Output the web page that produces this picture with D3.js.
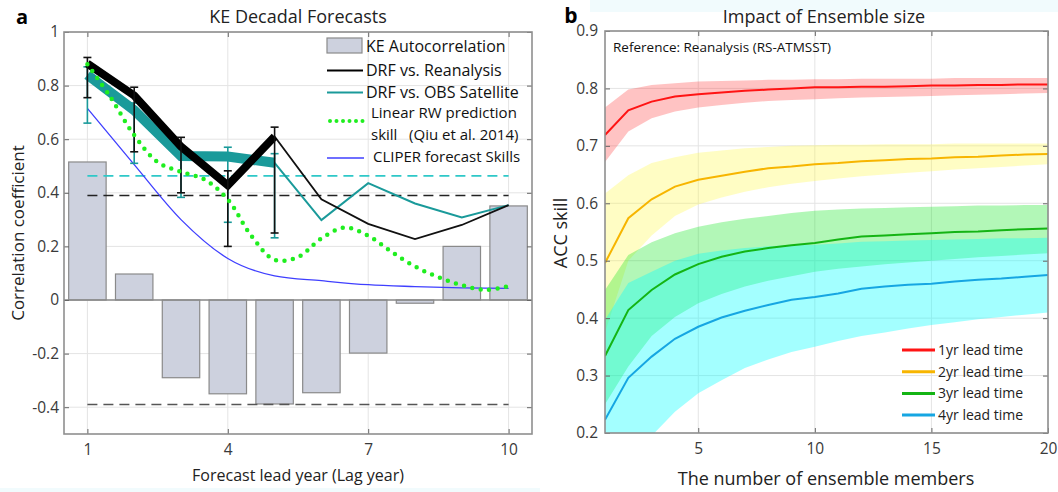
<!DOCTYPE html>
<html><head><meta charset="utf-8">
<script src="https://cdn.jsdelivr.net/npm/d3@7"></script>
<style>body{margin:0;background:#fff;} svg{display:block;font-family:'Open Sans',Lato,sans-serif;}</style>
</head><body><svg id="c" width="1058" height="492"></svg>
<script>
// ---------- Panel a data ----------
const leadYears = [1,2,3,4,5,6,7,8,9,10];
const keAutocorr = [0.515,0.097,-0.29,-0.35,-0.388,-0.346,-0.198,-0.012,0.20,0.351];
const drfReanalysis = [0.882,0.763,0.572,0.428,0.61,0.376,0.284,0.227,0.28,0.354];
const drfReanalysisLo = [0.755,0.553,0.40,0.20,0.25];
const drfReanalysisHi = [0.905,0.794,0.607,0.482,0.645];
const drfSatellite = [0.84,0.708,0.537,0.535,0.512,0.298,0.436,0.36,0.308,0.354];
const drfSatelliteLo = [0.66,0.51,0.383,0.29,0.232];
const drfSatelliteHi = [0.87,0.735,0.567,0.57,0.546];
const cliperSkill = [0.715,0.505,0.30,0.155,0.09,0.072,0.057,0.05,0.045,0.043];
const rwLags = [1,1.5,2,2.5,3,3.5,4,4.5,5,5.5,6,6.5,7,7.5,8,8.5,9,9.5,10];
const rwSkill = [0.88,0.755,0.615,0.515,0.478,0.45,0.375,0.24,0.15,0.16,0.23,0.27,0.24,0.18,0.125,0.085,0.055,0.038,0.052];
const sigReanalysis = 0.39, sigSatellite = 0.463, sigAutocorr = -0.39;
const xTicksA = [1,4,7,10];
const yTicksA = [-0.4,-0.2,0,0.2,0.4,0.6,0.8,1];

// ---------- Panel b data ----------
const members = d3.range(1,21);
const lead1 = [0.719,0.762,0.777,0.786,0.790,0.793,0.796,0.798,0.800,0.802,0.802,0.803,0.803,0.804,0.805,0.805,0.806,0.806,0.807,0.807];
const lead1Hi = [0.767,0.798,0.806,0.809,0.812,0.813,0.814,0.815,0.815,0.816,0.816,0.817,0.817,0.817,0.817,0.818,0.818,0.818,0.818,0.818];
const lead1Lo = [0.672,0.725,0.748,0.760,0.767,0.771,0.775,0.778,0.780,0.781,0.783,0.784,0.785,0.786,0.787,0.788,0.789,0.790,0.791,0.792];
const lead2 = [0.496,0.574,0.607,0.629,0.641,0.648,0.655,0.661,0.664,0.668,0.670,0.673,0.675,0.677,0.678,0.680,0.681,0.683,0.685,0.686];
const lead2Hi = [0.617,0.649,0.670,0.680,0.688,0.692,0.696,0.698,0.700,0.701,0.702,0.702,0.703,0.703,0.703,0.704,0.704,0.704,0.704,0.704];
const lead2Lo = [0.375,0.50,0.544,0.578,0.598,0.610,0.620,0.628,0.634,0.639,0.643,0.647,0.650,0.653,0.656,0.659,0.661,0.663,0.666,0.668];
const lead3 = [0.334,0.414,0.449,0.476,0.494,0.507,0.516,0.522,0.527,0.531,0.537,0.542,0.544,0.546,0.548,0.550,0.551,0.553,0.555,0.556];
const lead3Hi = [0.449,0.510,0.532,0.548,0.559,0.567,0.573,0.578,0.583,0.587,0.589,0.591,0.592,0.593,0.594,0.595,0.596,0.596,0.597,0.597];
const lead3Lo = [0.250,0.316,0.369,0.402,0.426,0.442,0.455,0.465,0.473,0.481,0.486,0.490,0.494,0.497,0.500,0.503,0.506,0.508,0.511,0.513];
const lead4 = [0.223,0.296,0.333,0.364,0.385,0.401,0.413,0.423,0.432,0.437,0.443,0.451,0.455,0.458,0.460,0.464,0.467,0.469,0.472,0.475];
const lead4Hi = [0.397,0.461,0.481,0.500,0.512,0.518,0.522,0.525,0.527,0.528,0.530,0.533,0.534,0.535,0.536,0.537,0.538,0.539,0.539,0.540];
const lead4Lo = [0.08,0.14,0.195,0.237,0.269,0.292,0.313,0.328,0.341,0.350,0.360,0.369,0.375,0.382,0.388,0.393,0.398,0.402,0.406,0.410];
const leadLabels = ['1yr lead time','2yr lead time','3yr lead time','4yr lead time'];
const xTicksB = [5,10,15,20];
const yTicksB = [0.2,0.3,0.4,0.5,0.6,0.7,0.8,0.9];

const svg = d3.select('#c');
svg.append('rect').attr('x',590).attr('y',0).attr('width',468).attr('height',12).attr('fill','#f1fbfd');
svg.append('rect').attr('x',0).attr('y',488).attr('width',540).attr('height',4).attr('fill','#f1fbfd');

const fmt = d => String(+(+d).toFixed(1));

function frame(x, y, xt, yt) {
  const [x0,x1] = x.range(), [y0,y1] = y.range();
  const g = svg.append('g');
  g.selectAll('.gx').data(xt).join('line').attr('x1',d=>x(d)).attr('x2',d=>x(d)).attr('y1',y0).attr('y2',y1)
    .attr('stroke','#e4e4e4').attr('stroke-width',1);
  g.selectAll('.gy').data(yt).join('line').attr('y1',d=>y(d)).attr('y2',d=>y(d)).attr('x1',x0).attr('x2',x1)
    .attr('stroke','#e4e4e4').attr('stroke-width',1);
  return g;
}
function axesOver(x, y, xt, yt, padX, padY, fmtY) {
  const [x0,x1] = x.range(), [y0,y1] = y.range();
  const g = svg.append('g');
  g.append('g').attr('transform',`translate(0,${y0})`).call(d3.axisBottom(x).tickValues(xt).tickSize(-5).tickPadding(padX).tickFormat(fmt));
  g.append('g').attr('transform',`translate(0,${y1})`).call(d3.axisTop(x).tickValues(xt).tickSize(-5).tickFormat(''));
  g.append('g').attr('transform',`translate(${x0},0)`).call(d3.axisLeft(y).tickValues(yt).tickSize(-5).tickPadding(padY).tickFormat(fmtY));
  g.append('g').attr('transform',`translate(${x1},0)`).call(d3.axisRight(y).tickValues(yt).tickSize(-5).tickFormat(''));
  g.selectAll('.domain').remove();
  g.selectAll('.tick line').attr('stroke','#666');
  g.selectAll('.tick text').attr('font-size',15.5).attr('fill','#3a3a3a').attr('font-family',"'Open Sans',sans-serif");
  g.append('rect').attr('x',x0).attr('y',y1).attr('width',x1-x0).attr('height',y0-y1)
    .attr('fill','none').attr('stroke','#8f8f8f').attr('stroke-width',1.6);
}

// ================= Panel a =================
const xA = d3.scaleLinear().domain([0.5,10.5]).range([64,532]);
const yA = d3.scaleLinear().domain([-0.5,1]).range([434,32]);
frame(xA, yA, xTicksA, yTicksA);
svg.append('clipPath').attr('id','clipA').append('rect').attr('x',64).attr('y',32).attr('width',468).attr('height',402);
const pa = svg.append('g').attr('clip-path','url(#clipA)');
const bw = (xA(1.8)-xA(1));
pa.selectAll('.bar').data(leadYears).join('rect')
  .attr('x',d=>xA(d)-bw/2).attr('width',bw)
  .attr('y',(d,i)=>yA(Math.max(0,keAutocorr[i]))).attr('height',(d,i)=>Math.abs(yA(keAutocorr[i])-yA(0)))
  .attr('fill','#cdd1de').attr('stroke','#8a8a8a').attr('stroke-width',1.2);
pa.append('line').attr('x1',64).attr('x2',532).attr('y1',yA(0)).attr('y2',yA(0)).attr('stroke','#8a8a8a').attr('stroke-width',1.4);
[[sigSatellite,'#2ec8c8'],[sigReanalysis,'#222'],[sigAutocorr,'#555']].forEach(([v,c])=>{
  pa.append('line').attr('x1',xA(1)).attr('x2',xA(10)).attr('y1',yA(v)).attr('y2',yA(v))
    .attr('stroke',c).attr('stroke-width',1.6).attr('stroke-dasharray','10,6');
});
const lineA = d3.line().x(d=>xA(d[0])).y(d=>yA(d[1]));
pa.append('path').attr('d',d3.line().x(d=>xA(d[0])).y(d=>yA(d[1])).curve(d3.curveMonotoneX)(leadYears.map((d,i)=>[d,cliperSkill[i]])))
  .attr('fill','none').attr('stroke','#3f3fff').attr('stroke-width',1.3);
pa.append('path').attr('d',lineA(leadYears.slice(4).map((d,i)=>[d,drfSatellite[i+4]])))
  .attr('fill','none').attr('stroke','#1a9a9a').attr('stroke-width',2);
pa.append('path').attr('d',lineA(leadYears.slice(4).map((d,i)=>[d,drfReanalysis[i+4]])))
  .attr('fill','none').attr('stroke','#111').attr('stroke-width',1.8);
pa.append('path').attr('d',lineA(leadYears.slice(0,5).map((d,i)=>[d,drfSatellite[i]])))
  .attr('fill','none').attr('stroke','#1a9a9a').attr('stroke-width',10);
function errBars(lo, hi, col) {
  lo.forEach((v,i)=>{
    const xx = xA(leadYears[i]);
    pa.append('line').attr('x1',xx).attr('x2',xx).attr('y1',yA(v)).attr('y2',yA(hi[i])).attr('stroke',col).attr('stroke-width',1.6);
    [v,hi[i]].forEach(e=>pa.append('line').attr('x1',xx-4).attr('x2',xx+4).attr('y1',yA(e)).attr('y2',yA(e)).attr('stroke',col).attr('stroke-width',1.6));
  });
}
errBars(drfSatelliteLo, drfSatelliteHi, '#1a9a9a');
pa.append('path').attr('d',lineA(leadYears.slice(0,5).map((d,i)=>[d,drfReanalysis[i]])))
  .attr('fill','none').attr('stroke','#000').attr('stroke-width',8).attr('stroke-linejoin','miter');
errBars(drfReanalysisLo, drfReanalysisHi, '#111');
pa.append('path').attr('d',d3.line().x(d=>xA(d[0])).y(d=>yA(d[1])).curve(d3.curveCatmullRom)(rwLags.map((d,i)=>[d,rwSkill[i]])))
  .attr('fill','none').attr('stroke','#1fee1f').attr('stroke-width',4.5).attr('stroke-linecap','round').attr('stroke-dasharray','0,8.5');
axesOver(xA, yA, xTicksA, yTicksA, 10, 5, fmt);

// legend a
const lg = svg.append('g');
lg.append('rect').attr('x',327).attr('y',38).attr('width',35).attr('height',15).attr('fill','#cdd1de').attr('stroke','#8a8a8a').attr('stroke-width',1.2);
lg.append('line').attr('x1',327).attr('x2',363).attr('y1',70.5).attr('y2',70.5).attr('stroke','#000').attr('stroke-width',2);
lg.append('line').attr('x1',327).attr('x2',363).attr('y1',92.5).attr('y2',92.5).attr('stroke','#1a9a9a').attr('stroke-width',2.2);
lg.append('line').attr('x1',330).attr('x2',363).attr('y1',121).attr('y2',121).attr('stroke','#1fee1f').attr('stroke-width',4).attr('stroke-linecap','round').attr('stroke-dasharray','0,6.5');
lg.append('line').attr('x1',327).attr('x2',364).attr('y1',158).attr('y2',158).attr('stroke','#3f3fff').attr('stroke-width',1.3);
const legA = [['KE Autocorrelation',366,46,16],['DRF vs. Reanalysis',366,70,16],['DRF vs. OBS Satellite',366,92,16],
  ['Linear RW prediction',371,113,15],['skill\u00a0\u00a0 (Qiu et al. 2014)',371,135,15],['CLIPER forecast Skills',373,157,15]];
legA.forEach(([t,x,y,s])=>lg.append('text').attr('x',x).attr('y',y).attr('dy','0.35em').attr('font-size',s).attr('fill','#111').text(t));

svg.append('text').attr('x',16).attr('y',17).attr('dy','0.35em').attr('font-size',20).attr('font-weight','bold').text('a');
svg.append('text').attr('x',298).attr('y',17).attr('dy','0.35em').attr('text-anchor','middle').attr('font-size',18).attr('fill','#222').text('KE Decadal Forecasts');
svg.append('text').attr('x',298).attr('y',475).attr('dy','0.35em').attr('text-anchor','middle').attr('font-size',16).attr('fill','#222').text('Forecast lead year (Lag year)');
svg.append('text').attr('transform','translate(18,233) rotate(-90)').attr('dy','0.35em').attr('text-anchor','middle').attr('font-size',17).attr('fill','#222').text('Correlation coefficient');

// ================= Panel b =================
const xB = d3.scaleLinear().domain([1,20]).range([605,1048]);
const yB = d3.scaleLinear().domain([0.2,0.9]).range([433,31]);
frame(xB, yB, xTicksB, yTicksB);
svg.append('clipPath').attr('id','clipB').append('rect').attr('x',605).attr('y',31).attr('width',443).attr('height',402);
const pb = svg.append('g').attr('clip-path','url(#clipB)');
const series = [
  {m:lead1, hi:lead1Hi, lo:lead1Lo, band:'rgb(255,40,40)', a:0.28, line:'#ff1414'},
  {m:lead2, hi:lead2Hi, lo:lead2Lo, band:'rgb(255,250,60)', a:0.3, line:'#f7b500'},
  {m:lead3, hi:lead3Hi, lo:lead3Lo, band:'rgb(0,228,18)', a:0.3, line:'#14b414'},
  {m:lead4, hi:lead4Hi, lo:lead4Lo, band:'rgb(0,255,255)', a:0.36, line:'#16a6e2'}
];
const area = d3.area().x(d=>xB(d[0])).y0(d=>yB(d[1])).y1(d=>yB(d[2]));
const lineB = d3.line().x(d=>xB(d[0])).y(d=>yB(d[1]));
series.forEach(s=>{
  pb.append('path').attr('d',area(members.map((d,i)=>[d,s.lo[i],s.hi[i]]))).attr('fill',s.band).attr('fill-opacity',s.a);
});
series.forEach(s=>{
  pb.append('path').attr('d',lineB(members.map((d,i)=>[d,s.m[i]]))).attr('fill','none').attr('stroke',s.line).attr('stroke-width',2);
});
axesOver(xB, yB, xTicksB, yTicksB, 10, 7, d=>(+d).toFixed(1));
svg.append('text').attr('x',613).attr('y',47).attr('dy','0.35em').attr('font-size',13.5).attr('fill','#111').text('Reference: Reanalysis (RS-ATMSST)');
const legB = svg.append('g');
series.forEach((s,i)=>{
  const yy = 350 + i*21.7;
  legB.append('line').attr('x1',902).attr('x2',935).attr('y1',yy).attr('y2',yy).attr('stroke',s.line).attr('stroke-width',3);
  legB.append('text').attr('x',938).attr('y',yy).attr('dy','0.35em').attr('font-size',14).attr('fill','#222').text(leadLabels[i]);
});
svg.append('text').attr('x',571).attr('y',16).attr('dy','0.35em').attr('text-anchor','middle').attr('font-size',21).attr('font-weight','bold').text('b');
svg.append('text').attr('x',824).attr('y',17).attr('dy','0.35em').attr('text-anchor','middle').attr('font-size',18).attr('fill','#222').text('Impact of Ensemble size');
svg.append('text').attr('x',826).attr('y',479).attr('dy','0.35em').attr('text-anchor','middle').attr('font-size',18).attr('fill','#222').text('The number of ensemble members');
svg.append('text').attr('transform','translate(561,233) rotate(-90)').attr('dy','0.35em').attr('text-anchor','middle').attr('font-size',18).attr('fill','#222').text('ACC skill');
</script></body></html>
